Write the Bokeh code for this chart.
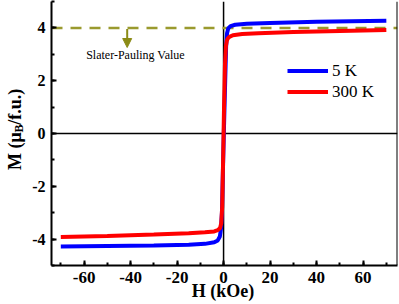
import math
from bokeh.plotting import figure
from bokeh.layouts import row, column
from bokeh.models import (Span, Label, Legend, LegendItem, Arrow, NormalHead,
                          SingleIntervalTicker, Range1d)
from bokeh.core.properties import value
from bokeh.embed import file_html
from bokeh.resources import INLINE

# ---- data ----
H_5K = [-70, -50, -30, -15, -8, -4, -2.5, -1.6, -1.1, -0.7, -0.3, 0.2, 0.7, 1.1, 1.5, 2.0, 3.0, 5, 10, 20, 40, 70]
M_5K = [-4.28, -4.26, -4.24, -4.21, -4.18, -4.12, -4.05, -3.9, -3.6, -3.0, -1.5, 0.3, 2.0, 3.3, 3.8, 3.98, 4.07, 4.12, 4.16, 4.19, 4.23, 4.27]

H_300K = [-70, -50, -30, -15, -8, -4, -2.5, -1.5, -1.0, -0.6, -0.2, 0.2, 0.6, 1.0, 1.4, 1.8, 2.5, 4, 8, 15, 30, 50, 70]
M_300K = [-3.92, -3.88, -3.83, -3.78, -3.74, -3.71, -3.66, -3.58, -3.4, -2.8, -1.0, 1.0, 2.6, 3.3, 3.52, 3.6, 3.66, 3.72, 3.77, 3.8, 3.84, 3.88, 3.92]

series_labels = ["5 K", "300 K"]
slater_pauling = 4.0
annotation_text = "Slater-Pauling Value"
x_title = "H (kOe)"
y_title_parts = ["M (\u03bc", "B", "/f.u.)"]
x_ticks = [-60, -40, -20, 0, 20, 40, 60]
x_tick_labels = ["-60", "-40", "-20", "0", "20", "40", "60"]
y_ticks = [-4, -2, 0, 2, 4]
y_tick_labels = ["-4", "-2", "0", "2", "4"]

SERIF = "Liberation Serif"

# ---- layout in page pixels (page has no margin) ----
TOTAL_W, TOTAL_H = 398, 303
FRAME_L, FRAME_R, FRAME_T, FRAME_B = 51, 397, 1, 265
LW = 26                          # strip with the y title
MAIN_H = FRAME_B + 2             # main plot canvas height
BH = TOTAL_H - MAIN_H            # strip with x tick labels + title
W = TOTAL_W - LW
X0, X1 = -74, 74.8
Y0, Y1 = -5, 5
sx = (FRAME_R - FRAME_L) / (X1 - X0)
sy = (FRAME_B - FRAME_T) / (Y1 - Y0)

def px2x(page_x):
    return X0 + (page_x - FRAME_L) / sx

def px2y(page_y):
    return Y1 - (page_y - FRAME_T) / sy

def strip(width, height, xr, yr):
    f = figure(width=width, height=height, output_backend="svg", toolbar_location=None,
               x_range=xr, y_range=yr,
               x_axis_location=None, y_axis_location=None, min_border=0)
    f.grid.visible = False
    f.outline_line_color = None
    f.background_fill_color = "white"
    f.border_fill_color = "white"
    return f

# ---- y-title strip: page x 0..LW, page y 0..MAIN_H (centres of each piece) ----
t = strip(LW, MAIN_H, Range1d(0, LW), Range1d(0, MAIN_H))
common = dict(angle=math.pi / 2, text_font=value(SERIF), text_font_style="bold",
              text_color="black", text_align="center", text_baseline="middle",
              text_line_height=1.0)
t.text(x=[14], y=[MAIN_H - 151.3], text=[y_title_parts[0]], text_font_size=value("18px"), **common)
t.text(x=[18.5], y=[MAIN_H - 128.5], text=[y_title_parts[1]], text_font_size=value("12px"), **common)
t.text(x=[14], y=[MAIN_H - 106.5], text=[y_title_parts[2]], text_font_size=value("18px"), **common)

# ---- bottom strip: page x 0..TOTAL_W (same x mapping as the plot), page y MAIN_H..TOTAL_H ----
b = strip(TOTAL_W, BH, Range1d(px2x(0), px2x(TOTAL_W)), Range1d(0, BH))
b.text(x=x_ticks, y=[TOTAL_H - 277.3] * len(x_ticks), text=x_tick_labels,
       text_font=value(SERIF), text_font_style="bold", text_font_size=value("17px"),
       text_color="black", text_align="center", text_baseline="middle", text_line_height=1.0)
b.text(x=[px2x(222.5)], y=[TOTAL_H - 290], text=[x_title],
       text_font=value(SERIF), text_font_style="bold", text_font_size=value("18px"),
       text_color="black", text_align="center", text_baseline="middle", text_line_height=1.0)

# ---- main plot ----
p = figure(width=W, height=MAIN_H, output_backend="svg", toolbar_location=None,
           x_range=Range1d(X0, X1), y_range=Range1d(Y0, Y1),
           min_border_left=FRAME_L - LW, min_border_right=TOTAL_W - FRAME_R,
           min_border_top=FRAME_T, min_border_bottom=MAIN_H - FRAME_B)
p.grid.visible = False
p.outline_line_color = None
p.background_fill_color = "white"
p.border_fill_color = "white"

for ax in (p.xaxis[0], p.yaxis[0]):
    ax.axis_line_width = 2
    ax.axis_line_color = "black"
    ax.major_tick_in = 5
    ax.major_tick_out = 0
    ax.minor_tick_in = 3
    ax.minor_tick_out = 0
    ax.major_tick_line_width = 2
    ax.minor_tick_line_width = 2
    ax.major_tick_line_color = "black"
    ax.minor_tick_line_color = "black"
    ax.major_label_text_font = SERIF
    ax.major_label_text_font_style = "bold"
    ax.major_label_text_color = "black"

p.yaxis.major_label_text_font_size = "16px"
p.yaxis.major_label_standoff = 6
p.xaxis.major_label_text_font_size = "0px"
p.xaxis.major_label_standoff = 0
p.xaxis.ticker = SingleIntervalTicker(interval=20, num_minor_ticks=2)
p.yaxis.ticker = SingleIntervalTicker(interval=2, num_minor_ticks=2)
p.xaxis.major_label_overrides = {tk: "" for tk in x_ticks}
p.yaxis.major_label_overrides = {tk: s for tk, s in zip(y_ticks, y_tick_labels)}

# reference lines
p.add_layout(Span(location=0, dimension="height", line_color="black", line_width=1.5, level="underlay"))
p.add_layout(Span(location=0, dimension="width", line_color="black", line_width=1.5, level="underlay"))
p.add_layout(Span(location=X1, dimension="height", line_color="black", line_width=2))
p.add_layout(Span(location=slater_pauling, dimension="width", line_color="#9a9a2e",
                  line_width=2.5, line_dash="11 8", level="underlay"))

r1 = p.line(H_5K, M_5K, line_color="#0000ff", line_width=4)
r2 = p.line(H_300K, M_300K, line_color="#ff0000", line_width=4)

# legend: glyph left edge at page x 287, first row centred at page y 70.7
leg_top = 70.7 - 10.5
legend = Legend(items=[LegendItem(label=series_labels[0], renderers=[r1]),
                       LegendItem(label=series_labels[1], renderers=[r2])],
                location=(287 - FRAME_L, FRAME_B - (leg_top + 42)),
                padding=0, spacing=0, margin=0,
                glyph_width=41, glyph_height=21, label_height=21,
                label_standoff=4, border_line_color=None,
                background_fill_alpha=0,
                label_text_font=SERIF, label_text_font_size="17px",
                label_text_color="black")
p.add_layout(legend)

# arrow + annotation text
ax_x = px2x(126.7)
p.add_layout(Arrow(x_start=ax_x, y_start=px2y(28.5), x_end=ax_x, y_end=px2y(47),
                   line_color="#8b8b16", line_width=2,
                   end=NormalHead(size=9, fill_color="#8b8b16", line_color="#8b8b16")))
p.add_layout(Label(x=px2x(135), y=px2y(54), text=annotation_text,
                   text_font=SERIF, text_font_size="12px", text_color="black",
                   text_align="center", text_baseline="middle"))

layout = column(row(t, p, spacing=0), b, spacing=0)
open("out.html", "w").write(file_html(layout, INLINE))
